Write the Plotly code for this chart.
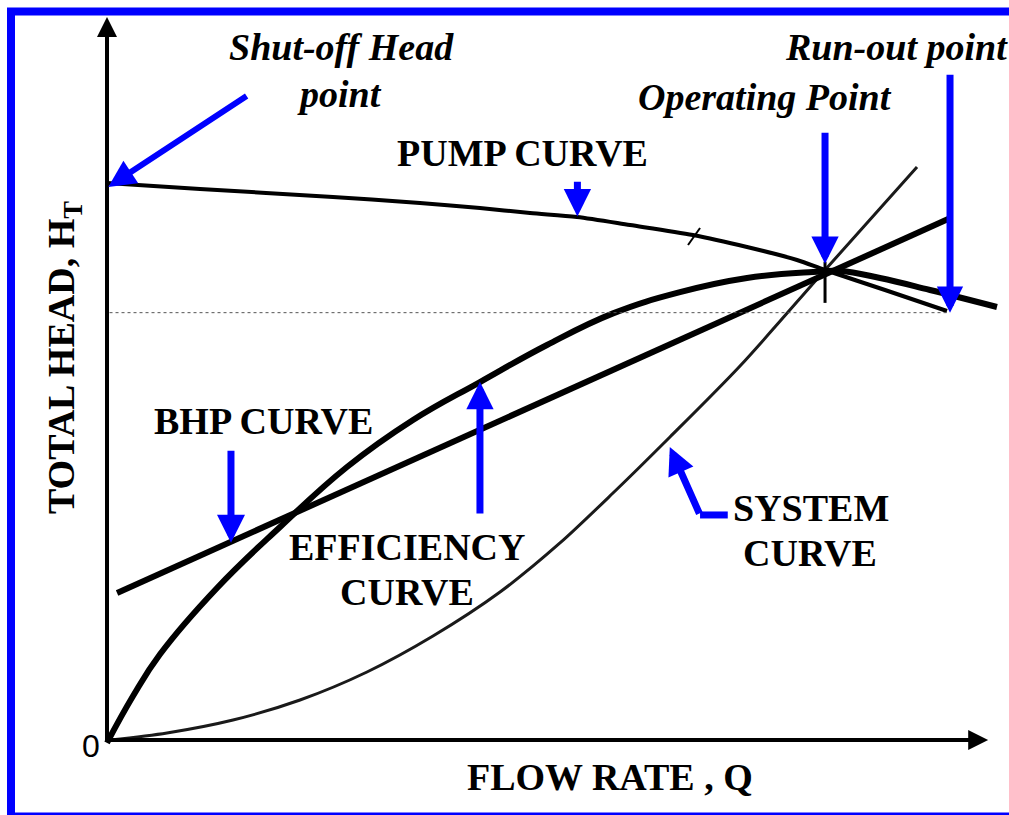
import plotly.graph_objects as go

# ---------------- data (flow rate Q, head H in relative units) ----------------
pump_q = [0, 11.07, 26.9, 37.26, 44.40, 50.36, 55.95, 62.26, 69.76, 76.19, 82.14, 85.48, 92.62, 100.0]
pump_h = [100.0, 98.92, 97.49, 96.41, 95.51, 94.61, 93.90, 92.46, 90.66, 88.51, 86.18, 84.38, 80.79, 77.02]

eff_q = [0, 3.10, 6.31, 13.10, 20.60, 28.57, 36.43, 44.40, 52.38, 60.24, 68.21, 76.19, 84.05, 87.26,
         92.02, 97.98, 105.95]
eff_h = [-0.5, 7.9, 15.4, 27.3, 38.24, 49.01, 57.45, 64.27, 70.92, 76.6, 80.4, 82.94, 84.02, 84.20,
         82.94, 80.79, 77.74]

bhp_q = [1.2, 100.4]
bhp_h = [26.4, 93.7]

sys_q = [0.4, 7.14, 15.0, 22.98, 30.95, 38.81, 46.79, 53.93, 60.24, 67.02, 75.36, 85.48, 96.43]
sys_h = [0, 1.26, 3.59, 7.18, 12.21, 18.67, 26.57, 35.37, 44.34, 54.40, 67.15, 84.38, 102.87]

op_q, op_h = 85.48, 84.38          # operating point
runout_q, runout_h = 100.0, 77.02  # run-out point

# ---------------- layout scale helpers ----------------
W, H = 1009, 815
PX_Q = 8.4      # pixels per Q unit
PX_H = 5.57     # pixels per H unit
X0, Y0 = 107, 740  # pixel position of origin

xr = [-X0 / PX_Q, (W - X0) / PX_Q]
yr = [-(H - Y0) / PX_H, Y0 / PX_H]

BLUE = "#0000FF"
FONT = "Liberation Serif, Times New Roman, serif"
FS = 38

fig = go.Figure()

fig.add_trace(go.Scatter(x=sys_q, y=sys_h, mode="lines",
                         line=dict(color="#1a1a1a", width=3, shape="spline", smoothing=0.8), hoverinfo="skip"))
fig.add_trace(go.Scatter(x=pump_q, y=pump_h, mode="lines",
                         line=dict(color="black", width=4, shape="spline", smoothing=0.8), hoverinfo="skip"))
fig.add_trace(go.Scatter(x=eff_q, y=eff_h, mode="lines",
                         line=dict(color="black", width=6, shape="spline", smoothing=1.2), hoverinfo="skip"))
fig.add_trace(go.Scatter(x=bhp_q, y=bhp_h, mode="lines",
                         line=dict(color="black", width=6), hoverinfo="skip"))

shapes = []
# dotted run-out head line
shapes.append(dict(type="line", xref="x", yref="y", x0=0.3, x1=runout_q, y0=runout_h - 0.3, y1=runout_h - 0.3,
                   line=dict(color="#555", width=1, dash="dot")))
# operating point tick
shapes.append(dict(type="line", xref="x", yref="y", x0=op_q, x1=op_q, y0=op_h - 5.9, y1=op_h + 1.5,
                   line=dict(color="black", width=3)))
# small tick on pump curve
shapes.append(dict(type="line", xref="x", yref="y", x0=69.17, x1=70.6, y0=88.87, y1=91.92,
                   line=dict(color="black", width=2)))
# system curve arrow horizontal leg
shapes.append(dict(type="line", xref="x", yref="y", x0=73.9, x1=70.6, y0=40.4, y1=40.4,
                   line=dict(color=BLUE, width=7)))
# blue border
shapes.append(dict(type="rect", xref="paper", yref="paper",
                   x0=11 / W, x1=1014 / W, y0=-1.5 / H, y1=(H - 11.5) / H,
                   line=dict(color=BLUE, width=8), fillcolor="rgba(0,0,0,0)"))

ann = []

def arrow(tip, tail, color, width, size):
    ann.append(dict(x=tip[0], y=tip[1], ax=tail[0], ay=tail[1], xref="x", yref="y",
                    axref="x", ayref="y", text="", showarrow=True, arrowhead=2,
                    arrowsize=size, arrowwidth=width, arrowcolor=color, standoff=0))

# axes
arrow((0, 129.8), (0, -0.3), "black", 4, 1.0)
arrow((104.9, 0), (-0.3, 0), "black", 4, 1.0)

# blue pointer arrows
arrow((0.15, 99.3), (16.8, 115.8), BLUE, 6, 0.9)          # shut-off head
arrow((56.0, 94.0), (56.0, 100.5), BLUE, 7, 0.78)         # pump curve
arrow((op_q, 85.5), (op_q, 109.3), BLUE, 7, 0.78)         # operating point
arrow((100.36, 76.7), (100.36, 119.7), BLUE, 7, 0.75)     # run-out
arrow((14.76, 35.4), (14.76, 52.2), BLUE, 7, 0.8)         # BHP
arrow((44.4, 64.3), (44.4, 40.4), BLUE, 7, 0.78)          # efficiency
arrow((67.0, 52.6), (70.6, 40.4), BLUE, 7, 0.78)          # system


def label(x, y, text, size=FS, angle=0, family=FONT):
    ann.append(dict(x=x, y=y, xref="x", yref="y", text=text, showarrow=False,
                    xanchor="center", yanchor="middle", textangle=angle,
                    font=dict(family=family, size=size, color="black")))

label(27.86, 124.4, "<b><i>Shut-off Head</i></b>")
label(27.7, 116.0, "<b><i>point</i></b>")
label(49.5, 105.4, "<b>PUMP CURVE</b>")
label(94.0, 124.4, "<b><i>Run-out point</i></b>")
label(78.3, 115.4, "<b><i>Operating Point</i></b>")
label(18.6, 57.3, "<b>BHP CURVE</b>")
label(35.7, 34.7, "<b>EFFICIENCY</b>")
label(35.7, 26.6, "<b>CURVE</b>")
label(83.8, 41.7, "<b>SYSTEM</b>")
label(83.7, 33.6, "<b>CURVE</b>")
label(59.9, -6.6, "<b>FLOW RATE , Q</b>")
label(-5.1, 68.6, "<b>TOTAL HEAD, H<sub>T</sub></b>", angle=-90)
label(-1.9, -1.1, "0", size=32, family="Liberation Sans, Arial, sans-serif")

fig.update_layout(
    width=W, height=H,
    margin=dict(l=0, r=0, t=0, b=0),
    paper_bgcolor="white", plot_bgcolor="white",
    showlegend=False,
    xaxis=dict(range=xr, visible=False, fixedrange=True),
    yaxis=dict(range=yr, visible=False, fixedrange=True),
    shapes=shapes,
    annotations=ann,
)

fig.write_html("out.html", config={"displayModeBar": False},
               post_script="document.body.style.margin='0';document.body.style.overflow='hidden';")
